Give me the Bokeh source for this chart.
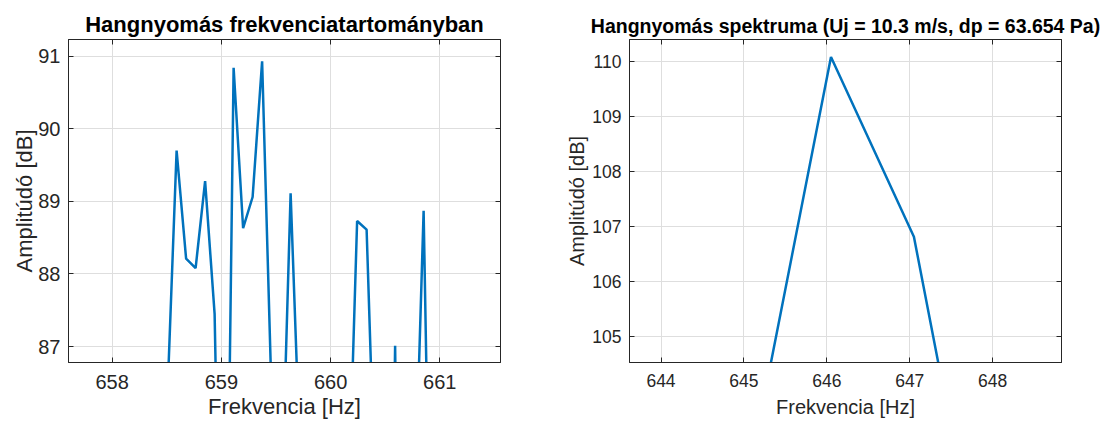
from bokeh.plotting import figure
from bokeh.layouts import row
from bokeh.models import FixedTicker, LinearAxis, Range1d, CustomJSTickFormatter
from bokeh.embed import file_html
from bokeh.resources import INLINE

# Narrow-band view of the sound-pressure spectrum (Hz, dB)
freq_zoom = [658.416, 658.503, 658.590, 658.677, 658.764, 658.851, 658.938,
             659.025, 659.112, 659.199, 659.286, 659.373, 659.460, 659.547,
             659.634, 659.721, 659.808, 659.895, 659.982, 660.069, 660.156,
             660.243, 660.330, 660.417, 660.504, 660.591, 660.678, 660.765,
             660.852, 660.939, 661.026]
amp_zoom = [83.0, 86.2, 89.70, 88.21, 88.08, 89.28, 87.45,
            80.6, 90.84, 88.63, 89.06, 90.93, 86.3, 84.6,
            89.11, 85.45, 82.0, 79.5, 81.0, 83.2, 84.4,
            88.73, 88.61, 84.5, 78.0, 87.01, 76.0, 84.5,
            88.87, 81.4, 79.0]

# Spectrum around the dominant tone
freq_peak = [643.05, 644.05, 645.05, 646.05, 647.05, 648.05, 649.05]
amp_peak = [95.0, 98.0, 102.4, 110.08, 106.81, 99.0, 96.0]

xticks_zoom = [658, 659, 660, 661]
yticks_zoom = [87, 88, 89, 90, 91]
xticks_peak = [644, 645, 646, 647, 648]
yticks_peak = [105, 106, 107, 108, 109, 110]

AX = "#262626"
LINE = "#0072BD"
GRID = "#dedede"
FONT = "Liberation Sans"


def panel(title, xs, ys, xr, yr, xt, yt, width, borders, sizes, x_offs, y_lab_off):
    bl, br = borders
    tick_fs, label_fs, title_fs = sizes
    x_tick_off, x_lab_off = x_offs
    p = figure(width=width, height=423, output_backend="svg", toolbar_location=None,
               x_range=Range1d(*xr), y_range=Range1d(*yr),
               min_border_left=bl, min_border_right=br,
               min_border_top=39, min_border_bottom=61)
    p.background_fill_color = "white"
    p.border_fill_color = "white"
    p.outline_line_color = AX
    p.outline_line_width = 1

    p.title.text = title
    p.title.align = "center"
    p.title.text_font = FONT
    p.title.text_font_size = title_fs
    p.title.text_font_style = "bold"
    p.title.text_color = "black"
    p.title.standoff = 6

    p.xaxis.ticker = FixedTicker(ticks=xt)
    p.yaxis.ticker = FixedTicker(ticks=yt)
    for ax in (p.xaxis[0], p.yaxis[0]):
        ax.axis_line_color = AX
        ax.major_tick_line_color = AX
        ax.major_tick_in = 5
        ax.major_tick_out = 0
        ax.minor_tick_line_color = None
        ax.major_label_text_font = FONT
        ax.major_label_text_font_size = tick_fs
        ax.major_label_text_color = AX
        ax.axis_label_text_font = FONT
        ax.axis_label_text_font_size = label_fs
        ax.axis_label_text_font_style = "normal"
        ax.axis_label_text_color = AX
    p.xaxis.axis_label = "Frekvencia [Hz]"
    p.yaxis.axis_label = "Amplitúdó [dB]"
    p.xaxis.major_label_standoff = x_tick_off
    p.xaxis.axis_label_standoff = x_lab_off
    p.yaxis.major_label_standoff = 8
    p.yaxis.axis_label_standoff = y_lab_off

    # box-style tick marks on the top and right edges
    blank = CustomJSTickFormatter(code="return ''")
    for ticks, side in ((xt, "above"), (yt, "right")):
        a = LinearAxis(ticker=FixedTicker(ticks=ticks), formatter=blank,
                       axis_line_color=AX, major_tick_line_color=AX,
                       major_tick_in=5, major_tick_out=0,
                       minor_tick_line_color=None, major_label_standoff=0)
        p.add_layout(a, side)

    p.xgrid.grid_line_color = GRID
    p.ygrid.grid_line_color = GRID
    p.line(xs, ys, line_color=LINE, line_width=2.5)
    return p


left = panel("Hangnyomás frekvenciatartományban", freq_zoom, amp_zoom,
             (657.60, 661.556), (86.78, 91.23), xticks_zoom, yticks_zoom,
             540, (68, 40), ("20px", "22px", "22px"), (12, 2), -2)
right = panel("Hangnyomás spektruma (Uj = 10.3 m/s, dp = 63.654 Pa)", freq_peak, amp_peak,
              (643.62, 648.83), (104.52, 110.40), xticks_peak, yticks_peak,
              571, (89, 50), ("17.5px", "20px", "19.5px"), (11, 6), 1)

layout = row(left, right)
open("out.html", "w").write(file_html(layout, INLINE))
